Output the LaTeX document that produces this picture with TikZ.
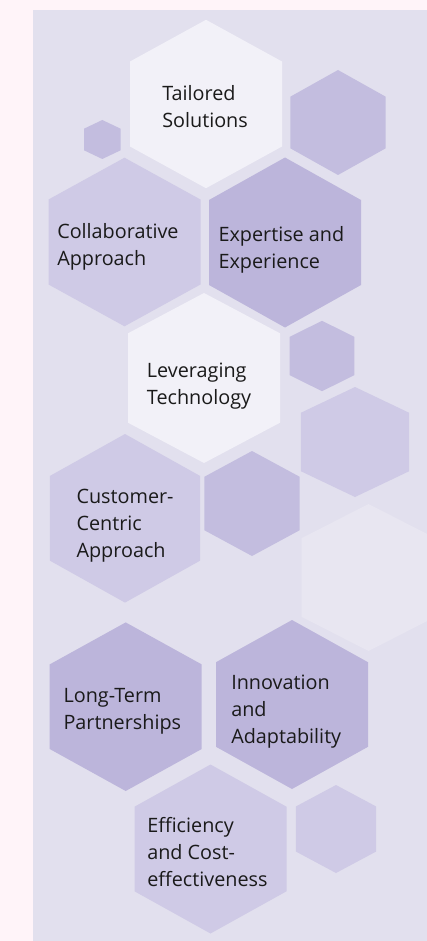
\documentclass[tikz,border=0pt]{standalone}
\usepackage{fontspec}
\setmainfont{Open Sans}
\definecolor{bgpink}{HTML}{FFF4F9}
\definecolor{panel}{HTML}{E2E0EE}
\definecolor{hexwhite}{HTML}{F2F1F8}
\definecolor{hexlight}{HTML}{CFCAE6}
\definecolor{hexmid}{HTML}{C3BDDF}
\definecolor{hexdark}{HTML}{BCB5DB}
\definecolor{hexfaint}{HTML}{E8E6F1}
\definecolor{textc}{HTML}{1A1A1A}
% cx, cy, R (vertical half), s (half gap of side vertices), hw (half width), colour
\newcommand{\drawhex}[6]{%
  \fill[#6] (#1,#2-#3) -- (#1+#5,#2-#4) -- (#1+#5,#2+#4) -- (#1,#2+#3)
    -- (#1-#5,#2+#4) -- (#1-#5,#2-#4) -- cycle;}
\tikzset{
  txt/.style={font=\fontsize{14.85}{20.25}\selectfont, align=left,
    inner sep=0pt, anchor=west, text=textc}
}
\begin{document}
\begin{tikzpicture}[x=0.75pt,y=-0.75pt]
\useasboundingbox (0,0) rectangle (427,941);
\fill[bgpink] (0,0) rectangle (427,941);
\fill[panel] (33,10) rectangle (427,941);
\clip (33,10) rectangle (427,941);
% hexagons
\drawhex{206}{104}{84.2}{42.5}{76}{hexwhite}
\drawhex{102.3}{139.5}{19.5}{10.8}{18.3}{hexmid}
\drawhex{338}{122.5}{52.5}{25.8}{47.7}{hexmid}
\drawhex{124.5}{242}{84.3}{42.5}{76}{hexlight}
\drawhex{285}{242.5}{85}{42.5}{76}{hexdark}
\drawhex{204}{378}{85}{44.7}{76}{hexwhite}
\drawhex{322}{356}{35.2}{19.2}{32.3}{hexmid}
\drawhex{355}{442}{55}{29.2}{54.2}{hexlight}
\drawhex{125}{518.3}{84.3}{42.3}{75.2}{hexlight}
\drawhex{252}{503.5}{52.5}{26.7}{47.7}{hexmid}
\drawhex{368.5}{577.5}{73.5}{39.3}{67}{hexfaint}
\drawhex{125.7}{706.7}{84.3}{42.3}{76}{hexdark}
\drawhex{292}{704.5}{84.5}{42.3}{76}{hexdark}
\drawhex{210.5}{849}{84.5}{42.3}{76}{hexlight}
\drawhex{336}{829}{44}{22.5}{40.2}{hexlight}
% texts
\node[txt] (t1) at (162,107) {Tailored\\Solutions};
\node[txt] (t2) at (57,247) {Collaborative\\Approach};
\node[txt] (t3) at (218.3,250) {Expertise and\\Experience};
\node[txt] (t4) at (146.7,386.5) {Leveraging\\Technology};
\node[txt] (t5) at (76.3,525.4) {Customer-\\Centric\\Approach};
\node[txt] (t6) at (63.3,711.5) {Long-Term\\Partnerships};
\node[txt] (t7) at (231,711.5) {Innovation\\and\\Adaptability};
\node[txt] (t8) at (147,851.7) {Efficiency\\and Cost-\\effectiveness};
\end{tikzpicture}
\end{document}
